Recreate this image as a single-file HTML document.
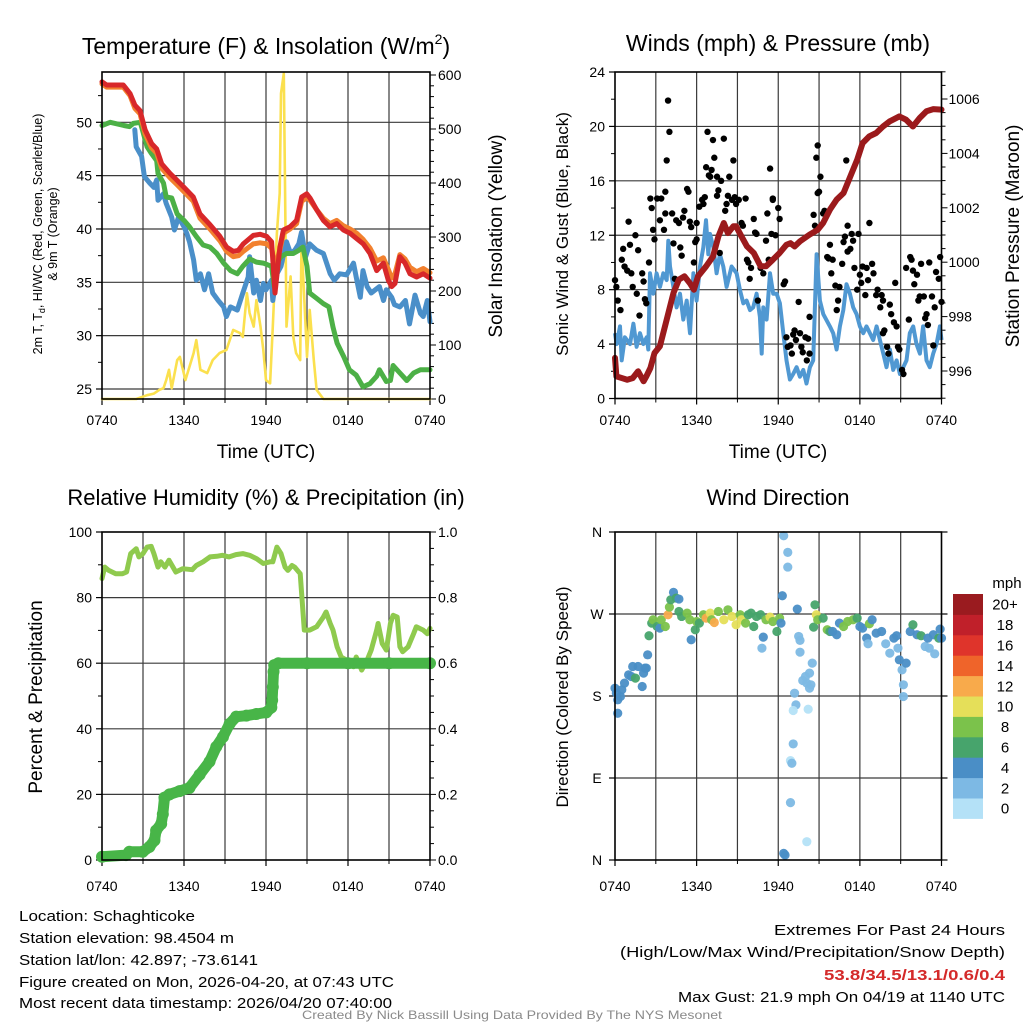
<!DOCTYPE html>
<html><head><meta charset="utf-8"><style>
html,body{margin:0;padding:0;background:#fff;}
svg{display:block;font-family:"Liberation Sans",sans-serif;}
</style></head><body>
<svg id="chart" width="1024" height="1024" viewBox="0 0 1024 1024" xmlns="http://www.w3.org/2000/svg"></svg>
<script>
// ---------- DATA ----------
const tickHours = [0,6,12,18,24];
const tickLabels = ["0740","1340","1940","0140","0740"];
// Panel 1: temperatures (F) & insolation
const tempLeftTicks = [25,30,35,40,45,50];
const solarTicks = [0,100,200,300,400,500,600];
const redHours = [0,0.34,1.56,2.05,2.41,2.78,3.15,3.63,4.0,4.37,4.98,5.46,6.07,6.68,7.17,7.9,8.63,9.12,9.61,9.98,10.34,11.07,11.56,12.05,12.41,12.66,13.02,13.27,13.76,14.24,14.61,14.98,15.22,15.71,16.2,16.68,17.17,17.66,18.15,18.63,19.12,19.61,20.1,20.59,20.95,21.2,21.44,21.8,22.17,22.54,23.02,23.51,24];
const redTemp = [53.8,53.5,53.5,52.7,51.6,51.1,49.3,48.0,47.5,46.1,45.2,44.6,43.8,43.0,41.4,40.4,39.3,38.3,37.9,38.0,38.6,39.4,39.5,39.3,38.8,34.0,38.3,39.9,40.2,40.8,43.0,43.3,42.9,41.8,40.8,40.2,40.5,39.9,39.6,39.1,38.6,37.7,36.1,36.8,35.2,34.6,34.9,37.4,36.8,35.8,35.5,35.8,35.4];
const orangeTemp = [53.6,53.3,53.3,52.5,51.3,50.8,48.9,47.6,47.1,45.7,44.8,44.2,43.4,42.6,41.0,40.0,38.9,37.9,37.4,37.5,37.9,38.6,38.7,38.6,38.2,36.5,38.0,39.6,40.0,40.5,42.6,42.9,42.7,41.8,41.0,40.5,40.8,40.3,40.0,39.6,39.0,38.2,37.0,37.3,36.2,35.4,35.8,37.6,37.2,36.4,36.0,36.3,35.9];
const greenHours = [0,0.6,1.6,2.0,2.3,2.8,3.0,3.3,3.6,4.0,4.1,4.5,4.7,5.1,5.5,6.0,6.4,6.9,7.4,7.9,8.4,8.9,9.4,9.9,10.3,10.8,11.3,11.8,12.4,12.6,12.8,13.1,13.5,14.0,14.4,14.7,15.0,15.2,15.7,16.2,16.6,16.9,17.2,17.7,18.1,18.6,19.1,19.6,20.1,20.3,20.8,21.1,21.3,21.8,22.3,22.8,23.3,24];
const greenTemp = [49.7,50.0,49.7,49.6,49.9,50.0,49.1,47.7,47.1,46.4,45.2,44.3,43.0,42.9,41.4,40.8,40.2,39.3,38.5,38.3,37.7,36.8,36.1,35.8,36.5,37.2,36.9,36.8,36.5,34.6,36.8,37.4,37.7,37.7,38.0,38.3,36.5,34.0,33.5,33.0,32.7,30.8,29.3,28.0,26.8,26.3,25.2,25.5,26.2,26.8,25.7,25.8,27.2,26.5,25.8,26.5,26.8,26.8];
const blueHours = [2.4,2.5,2.9,3.1,3.5,3.8,4.0,4.1,4.5,4.7,5.1,5.3,5.6,6.0,6.2,6.4,6.7,6.9,7.2,7.5,7.8,8.1,8.5,8.9,9.1,9.4,9.9,10.3,10.7,10.8,11.1,11.3,11.6,11.8,12.0,12.4,12.5,12.8,13.1,13.5,13.8,14.1,14.4,14.6,14.9,15.2,15.7,16.2,16.7,17.0,17.4,17.9,18.4,18.6,18.9,19.1,19.4,19.7,20.3,20.6,20.8,21.2,21.4,21.8,22.2,22.5,22.9,23.3,23.5,23.8,24];
const blueTemp = [49.3,47.7,46.8,44.9,44.3,43.9,44.6,42.7,43.3,42.4,41.1,39.9,41.1,40.2,39.6,38.8,37.1,35.2,35.8,34.3,35.8,34.0,33.3,32.7,31.8,32.7,32.4,34.0,35.5,37.4,34.0,35.2,33.3,34.9,34.3,35.2,33.3,35.8,36.5,38.8,37.7,38.0,38.6,39.7,37.4,38.6,38.0,37.7,35.8,35.2,35.8,35.7,36.8,35.5,33.6,36.1,34.6,34.0,34.6,33.3,34.3,33.6,32.9,32.7,33.3,31.1,33.8,32.1,31.8,33.3,31.3];
const solarHours = [0,2.5,3.3,3.8,4.2,4.5,4.7,4.9,5.1,5.5,5.7,6.1,6.4,6.7,6.9,7.2,7.7,8.1,8.6,9.1,9.6,10.1,10.3,10.6,10.8,11.1,11.3,11.6,11.8,12.0,12.3,12.5,12.8,13.0,13.1,13.3,13.4,13.5,13.8,14.0,14.2,14.5,14.6,14.9,15.0,15.2,15.5,15.7,16.2,24];
const solarWm2 = [0,0,7,10,17,20,35,54,20,72,78,35,60,85,109,54,48,72,85,91,128,122,115,196,159,134,183,134,91,35,29,134,307,381,566,603,381,134,227,115,85,72,294,134,78,165,72,17,0,0];
// Panel 2: winds & pressure
const windTicks = [0,4,8,12,16,20,24];
const pressTicks = [996,998,1000,1002,1004,1006];
const pressHours = [0,0.1,0.9,1.3,1.7,2.1,2.3,2.6,2.9,3.3,3.8,4.3,4.7,5.1,5.5,5.8,6.1,6.7,7.2,7.6,8.0,8.3,8.7,8.9,9.3,9.7,10.2,10.7,11.1,11.6,12.1,12.6,12.9,13.2,13.6,14.3,14.9,15.3,15.8,16.3,16.8,17.3,17.8,18.2,18.7,19.2,19.7,20.2,20.9,21.4,21.9,22.4,22.9,23.4,24];
const pressMb = [996.48,995.80,995.68,995.74,995.99,995.62,995.80,996.11,996.66,996.91,997.89,998.87,999.36,999.48,999.23,998.99,999.48,999.85,1000.21,1000.95,1001.44,1001.07,1001.32,1001.32,1000.95,1000.58,1000.34,999.85,999.85,1000.09,1000.34,1000.64,1000.70,1000.58,1000.77,1001.01,1001.19,1001.44,1001.93,1002.30,1002.54,1003.16,1003.77,1004.38,1004.63,1004.75,1004.99,1005.18,1005.36,1005.24,1004.99,1005.30,1005.55,1005.63,1005.61];
const windHours = [0,0.12,0.37,0.49,0.73,1.10,1.35,1.59,1.84,2.08,2.33,2.45,2.57,2.82,3.06,3.31,3.55,3.80,3.92,4.04,4.29,4.53,4.78,5.02,5.27,5.51,5.76,6.00,6.25,6.49,6.69,6.86,6.98,7.23,7.47,7.71,7.96,8.20,8.57,8.94,9.18,9.43,9.67,9.92,10.16,10.41,10.65,10.78,10.90,11.14,11.39,11.63,11.88,12.12,12.37,12.61,12.86,13.10,13.35,13.59,13.84,14.08,14.33,14.57,14.82,15.06,15.31,15.80,16.04,16.29,16.53,16.78,17.02,17.27,17.51,17.76,18.00,18.25,18.49,18.74,18.98,19.23,19.47,19.72,19.96,20.21,20.45,20.70,20.94,21.19,21.43,21.67,21.92,22.16,22.41,22.65,22.90,23.14,23.39,23.63,23.88,24];
const windMph = [4.8,4.0,5.3,2.8,4.5,4.0,5.5,3.8,4.8,4.0,4.5,3.6,9.2,7.7,9.2,8.2,9.2,8.7,11.6,9.7,8.2,6.7,7.7,5.8,7.2,4.8,9.2,7.2,9.7,11.1,13.1,10.6,12.1,11.1,9.2,10.6,9.7,8.2,9.7,9.2,8.0,7.0,7.2,6.5,6.7,7.7,6.0,3.3,6.7,5.8,9.2,7.7,7.7,7.0,4.8,2.8,1.4,1.8,2.3,1.6,2.1,1.1,2.3,2.8,10.6,7.2,6.2,5.3,4.8,3.6,5.3,6.5,8.4,7.7,6.7,6.2,5.3,4.8,5.3,4.8,4.3,5.3,4.3,3.3,2.3,3.6,2.1,2.8,1.8,2.3,2.8,4.8,5.3,4.0,3.3,5.3,2.8,2.3,3.3,4.0,5.3,4.3];
const gustHours = [0.0,0.1,0.2,0.4,0.5,0.6,0.7,0.9,1.0,1.1,1.2,1.3,1.5,1.6,1.7,1.8,2.0,2.1,2.2,2.3,2.5,2.6,2.7,2.8,2.9,3.1,3.3,3.4,3.6,3.7,3.7,3.8,3.9,4.0,4.2,4.3,4.4,4.5,4.7,4.8,4.9,5.0,5.1,5.3,5.4,5.5,5.6,5.8,5.9,6.0,6.0,6.2,6.4,6.5,6.6,6.7,6.8,6.9,7.0,7.1,7.2,7.3,7.5,7.5,7.6,7.7,7.8,8.0,8.1,8.2,8.3,8.4,8.6,8.7,8.8,8.9,9.1,9.3,9.4,9.6,9.7,9.8,9.9,10.0,10.2,10.3,10.4,10.5,10.7,10.9,11.1,11.2,11.3,11.4,11.5,11.6,11.6,11.8,12.0,12.1,12.4,12.5,12.6,12.7,12.9,13.0,13.1,13.2,13.3,13.5,13.6,13.7,13.8,14.0,14.1,14.2,14.3,14.3,14.6,14.7,14.8,14.9,14.9,15.0,15.1,15.3,15.4,15.6,15.7,15.8,15.9,16.0,16.2,16.3,16.4,16.5,16.7,16.8,16.9,17.0,17.1,17.1,17.3,17.4,17.5,17.6,17.8,17.9,18.0,18.1,18.2,18.4,18.5,18.6,18.7,18.9,19.0,19.2,19.3,19.5,19.6,19.7,19.7,19.8,20.0,20.1,20.2,20.3,20.5,20.6,20.7,20.8,20.9,21.1,21.2,21.4,21.6,21.7,21.8,21.9,22.0,22.2,22.3,22.4,22.5,22.7,22.8,22.9,23.0,23.1,23.3,23.4,23.5,23.6,23.8,23.9,24.0];
const gustMph = [8.7,8.2,7.2,6.5,10.2,11.0,9.7,9.4,13.0,11.3,9.2,8.2,12.0,7.7,10.9,6.1,9.2,8.6,7.3,7.0,10.0,14.7,14.0,12.4,11.7,14.7,13.1,14.7,12.4,13.6,15.2,17.5,21.9,19.6,13.6,11.4,8.8,13.1,12.9,11.1,10.5,13.3,13.8,15.4,15.2,13.0,12.6,10.0,11.5,11.7,12.9,14.1,14.6,14.3,14.8,17.0,19.6,16.4,16.3,16.8,19.0,17.7,16.3,14.9,15.3,10.7,16.0,19.1,13.8,14.3,14.9,16.3,14.6,17.5,14.8,14.3,14.6,12.9,12.7,14.7,10.2,10.0,8.8,9.6,13.2,12.2,12.1,7.2,9.6,9.2,11.6,13.6,10.2,16.9,12.1,14.7,14.6,12.0,14.0,13.2,8.4,8.6,4.5,3.8,3.9,3.3,4.7,5.0,4.3,7.1,4.8,3.8,3.4,4.5,2.8,4.4,3.3,6.0,13.5,12.7,17.7,18.6,15.1,15.2,16.3,13.6,13.8,10.4,10.3,11.3,9.2,10.2,8.3,6.5,7.2,8.2,9.9,11.5,11.9,17.5,12.7,10.8,11.0,12.1,11.6,9.6,8.0,12.1,9.1,8.5,9.7,7.6,9.6,8.7,12.9,9.9,9.2,7.6,8.0,6.7,7.6,7.2,4.8,5.0,3.8,3.3,6.9,6.2,5.6,8.5,5.3,3.8,3.6,2.1,1.8,9.6,5.8,10.4,10.2,9.4,8.4,9.1,7.2,7.5,9.9,7.5,5.9,6.2,5.4,10.0,7.5,3.9,6.7,9.3,8.8,10.4,7.1];
// Panel 3: RH & precip
const rhTicks = [0,20,40,60,80,100];
const precipTicks = [0,0.2,0.4,0.6,0.8,1.0];
const rhHours = [0,0.2,0.5,1.0,1.5,1.8,2.1,2.5,2.7,3.0,3.3,3.6,3.8,4.1,4.3,4.6,4.9,5.4,5.9,6.6,6.9,7.4,7.9,8.4,8.8,9.3,9.8,10.3,10.8,11.3,11.8,12.3,12.5,12.8,13.1,13.4,13.6,13.9,14.1,14.5,14.8,15.2,15.7,16.2,16.4,16.7,16.9,17.2,17.5,17.9,18.4,18.6,19.0,19.4,19.7,20.1,20.2,20.5,20.8,21.1,21.3,21.6,21.8,22.0,22.4,22.8,23.0,23.5,23.8,24];
const rhPct = [85.8,89.3,88.3,87.3,87.3,87.8,93.4,94.9,92.4,93.4,95.4,95.6,93.4,89.3,90.9,89.3,91.4,87.8,88.8,88.5,89.8,90.9,92.4,92.6,92.9,92.4,93.1,93.4,92.9,91.9,90.4,90.9,90.9,95.4,93.4,89.3,88.3,89.8,89.3,87.3,70.1,70.1,71.1,74.1,75.6,72.1,70.1,65.0,61.9,60.9,58.9,61.9,57.9,60.9,64.0,70.1,72.1,66.0,64.0,72.1,74.6,74.1,65.0,63.5,65.0,69.0,71.1,70.1,69.0,70.6];
const precipHours = [0,1.76,2.0,2.98,3.47,3.84,3.96,4.33,4.45,4.57,4.94,5.67,6.4,7.14,7.87,8.36,8.85,9.34,9.82,10.56,11.29,12.02,12.39,12.45,12.5,12.55,12.6,12.9,15,18,21,24];
const precipIn = [0.01,0.015,0.025,0.025,0.04,0.06,0.09,0.11,0.14,0.19,0.2,0.21,0.22,0.26,0.30,0.345,0.375,0.415,0.437,0.44,0.445,0.45,0.465,0.487,0.528,0.574,0.594,0.6,0.6,0.6,0.6,0.6];
// Panel 4: wind direction
const dirTickDeg = [0,90,180,270,360];
const dirTickLabels = ["N","E","S","W","N"];
const speedBins = [0,2,4,6,8,10,12,14,16,18,20];
const speedBinLabels = ["0","2","4","6","8","10","12","14","16","18","20+"];
const speedColors = ["#b4e1f7","#7db9e4","#4a8ec6","#47a46c","#7bc24b","#e5df59","#f8aa4b","#ef642a","#df342b","#c0202a","#9a1b1f"];
const dirHours = [0.0,0.1,0.2,0.2,0.4,0.5,0.7,1.0,1.2,1.3,1.5,1.7,2.0,2.1,2.2,2.3,2.4,2.5,2.7,2.8,3.1,3.3,3.4,3.7,3.9,4.0,4.1,4.3,4.5,4.7,4.7,4.9,5.3,5.5,5.6,5.9,6.0,6.2,6.5,6.7,7.0,7.1,7.3,7.6,8.0,8.3,8.6,8.9,9.2,9.3,9.6,9.8,10.0,10.2,10.4,10.7,10.9,10.8,11.1,11.4,11.6,11.9,12.1,12.2,12.3,12.4,12.7,12.7,13.4,13.5,13.6,13.6,13.8,14.0,14.3,14.5,14.1,14.3,14.4,13.2,13.3,13.1,14.2,13.1,12.9,13.0,12.9,12.4,12.5,14.1,14.7,14.8,14.6,14.9,15.3,15.6,15.8,16.0,16.3,16.5,16.8,17.1,17.5,17.8,18.0,18.2,18.5,18.6,18.7,18.9,19.2,19.6,19.9,20.2,20.5,20.7,20.8,20.9,21.1,21.4,21.2,21.2,21.7,21.9,22.2,22.5,22.8,23.0,23.1,23.4,23.5,23.8,23.9,24.0];
const dirDeg = [188.6,183.1,175.8,161.1,179.4,186.8,194.1,203.2,201.4,212.4,199.6,212.4,190.4,205.1,210.6,210.6,225.2,246.1,260.0,263.7,256.3,254.5,263.7,256.3,269.2,277.6,285.6,293.7,287.5,286.4,272.8,267.3,271.0,263.7,241.7,252.7,261.8,260.0,269.2,265.5,271.0,263.7,260.7,272.8,263.7,274.6,267.3,258.2,269.2,263.7,260.0,269.2,271.0,256.3,267.3,269.2,244.6,232.5,263.7,266.6,261.8,250.8,265.5,260.0,290.0,355.9,337.6,321.5,275.4,245.4,241.0,228.1,197.0,201.4,205.1,216.1,194.1,188.6,192.3,183.1,170.3,164.1,165.5,127.4,109.1,106.2,63.0,7.3,5.5,20.1,280.1,269.2,255.6,263.7,265.5,252.7,250.8,250.8,247.2,260.0,256.3,261.8,263.7,265.5,256.3,254.5,243.5,237.3,259.3,263.7,249.0,250.8,237.3,227.0,243.5,246.1,232.5,219.7,208.7,216.1,192.3,179.4,250.8,258.2,247.2,246.1,234.4,243.5,232.5,247.2,226.3,243.5,253.4,243.5];
const dirSpeed = [4,4,4,4,4,4,4,4,4,4,6,4,4,4,4,4,4,6,6,8,6,4,8,8,12,8,6,4,6,4,6,6,8,8,4,6,8,6,8,12,10,8,12,8,10,8,10,10,8,10,8,6,6,6,6,6,4,2,8,10,8,6,8,4,4,2,2,2,4,2,2,2,2,2,2,2,2,2,2,2,2,0,0,2,0,2,2,4,4,0,6,10,6,8,6,8,6,4,4,4,8,8,8,6,4,4,4,2,8,4,4,4,2,2,4,4,2,4,2,4,2,2,4,6,4,6,2,4,2,4,2,6,4,4];

// ---------- DRAWING ----------
const NS = "http://www.w3.org/2000/svg";
const svg = document.getElementById("chart");
function el(tag, attrs, parent){
  const e = document.createElementNS(NS, tag);
  for (const k in attrs) e.setAttribute(k, attrs[k]);
  (parent || svg).appendChild(e);
  return e;
}
function txt(s, x, y, size, anchor, parent, extra){
  const t = el("text", Object.assign({x:x, y:y, "font-size":size, "text-anchor":anchor||"middle", fill:"#000"}, extra||{}), parent);
  t.textContent = s;
  return t;
}
function lin(d0,d1,r0,r1){ return v => r0 + (v-d0)/(d1-d0)*(r1-r0); }
function pathD(xs, ys, xf, yf){
  let d = "";
  for (let i=0;i<xs.length;i++) d += (i?"L":"M") + xf(xs[i]).toFixed(1) + "," + yf(ys[i]).toFixed(1);
  return d;
}

function panel(name, L, R, T, B){
  const g = el("g", {});
  
  
  return g;
}
function vgrid(g, xf, T, B){
  for (let h=3; h<24; h+=3){
    const l = el("line", {x1:xf(h), x2:xf(h), y1:T, y2:B, stroke:"#3a3a3a", "stroke-width":1.2}, g);
    
    
  }
}
function xAxis(g, xf, B, labelY){
  tickHours.forEach((h,i)=>{
    el("line",{x1:xf(h),x2:xf(h),y1:B,y2:B+6,stroke:"#000","stroke-width":1.2},g);
    const t = txt(tickLabels[i], xf(h), labelY, 14, "middle", g);
    
    
  });
  for (let h=3; h<24; h+=6) el("line",{x1:xf(h),x2:xf(h),y1:B,y2:B+4,stroke:"#000","stroke-width":1},g);
}
function frame(g, L,R,T,B){
  const r = el("rect",{x:L,y:T,width:R-L,height:B-T,fill:"none",stroke:"#000","stroke-width":1.6},g);
  
  
}

// ===== Panel 1 =====
(function(){
  const L=102,R=430,T=72,B=399;
  const g = panel("temperature-panel");
  const x = lin(0,24,L,R);
  const y = lin(25,50,389,122.3);
  const yS = lin(0,600,399,75);
  vgrid(g,x,T,B);
  tempLeftTicks.forEach(v=>{
    el("line",{x1:L,x2:R,y1:y(v),y2:y(v),stroke:"#3a3a3a","stroke-width":1.2},g);
    el("line",{x1:L-6,x2:L,y1:y(v),y2:y(v),stroke:"#000","stroke-width":1.2},g);
    const t = txt(String(v), L-10, y(v)+5, 14, "end", g);
    
    
  });
  [27.5,32.5,37.5,42.5,47.5,52.5].forEach(v=>el("line",{x1:L-4,x2:L,y1:y(v),y2:y(v),stroke:"#000","stroke-width":1},g));
  for (let w=0; w<=600; w+=20) el("line",{x1:R,x2:R+(w%100===0?6:4),y1:yS(w),y2:yS(w),stroke:"#000","stroke-width":1},g);
  solarTicks.forEach(v=>{
    const t = txt(String(v), R+8, yS(v)+5, 14, "start", g);
    
    
  });
  xAxis(g,x,B,425);
  const series = [
    ["solar-insolation-line", solarHours, solarWm2, yS, "#fbe04e", 2.6],
    ["blue-temperature-line", blueHours, blueTemp, y, "#4a8fc9", 5],
    ["green-temperature-line", greenHours, greenTemp, y, "#4cb046", 5],
    ["orange-temperature-line", redHours, orangeTemp, y, "#f2802e", 5],
    ["red-temperature-line", redHours, redTemp, y, "#d8282a", 5]
  ];
  series.forEach(s=>{
    const p = el("path",{d:pathD(s[1],s[2],x,s[3]),fill:"none",stroke:s[4],"stroke-width":s[5],"stroke-linejoin":"round","stroke-linecap":"round"},g);
    
    
  });
  frame(g,L,R,T,B);
  const title = el("text",{x:266,y:54,"font-size":23,"text-anchor":"middle"},g);
  title.innerHTML = 'Temperature (F) &amp; Insolation (W/m<tspan font-size="14" dy="-10">2</tspan><tspan dy="10">)</tspan>';
  
  
  const xt = txt("Time (UTC)", 266, 458, 19, "middle", g);
  
  
  const yl = el("text",{transform:"translate(42,234) rotate(-90)","font-size":12.5,"text-anchor":"middle"},g);
  yl.innerHTML = '2m T, T<tspan font-size="9" dy="3">d</tspan><tspan dy="-3">, HI/WC (Red, Green, Scarlet/Blue)</tspan>';
  
  
  const yl2 = txt("& 9m T (Orange)", 0, 0, 12.5, "middle", g, {transform:"translate(57,234) rotate(-90)"});
  
  
  const yr = txt("Solar Insolation (Yellow)", 0, 0, 19, "middle", g, {transform:"translate(502,236) rotate(-90)"});
  
  
})();

// ===== Panel 2 =====
(function(){
  const L=615,R=941.5,T=72,B=398.5;
  const g = panel("winds-pressure-panel");
  const x = lin(0,24,L,R);
  const y = lin(0,24,B,T);
  const yP = lin(996,1006,371,99);
  vgrid(g,x,T,B);
  windTicks.forEach(v=>{
    if (v>0 && v<24) el("line",{x1:L,x2:R,y1:y(v),y2:y(v),stroke:"#3a3a3a","stroke-width":1.2},g);
    el("line",{x1:L-6,x2:L,y1:y(v),y2:y(v),stroke:"#000","stroke-width":1.2},g);
    const t = txt(String(v), L-10, y(v)+5, 14, "end", g);
    
    
  });
  for (let v=2; v<24; v+=4) el("line",{x1:L-4,x2:L,y1:y(v),y2:y(v),stroke:"#000","stroke-width":1},g);
  for (let p=995; p<=1007; p+=0.5) el("line",{x1:R,x2:R+(p%2===0?6:4),y1:yP(p),y2:yP(p),stroke:"#000","stroke-width":1},g);
  pressTicks.forEach(v=>{
    const t = txt(String(v), R+7, yP(v)+5, 14, "start", g);
    
    
  });
  xAxis(g,x,B,425);
  const w = el("path",{d:pathD(windHours,windMph,x,y),fill:"none",stroke:"#5098d2","stroke-width":4,"stroke-linejoin":"round"},g);
  
  
  const gg = el("g",{},g);
  
  
  for (let i=0;i<gustHours.length;i++){
    const c = el("circle",{cx:x(gustHours[i]),cy:y(gustMph[i]),r:3.2,fill:"#000"},gg);
    
    
  }
  const p = el("path",{d:pathD(pressHours,pressMb,x,yP),fill:"none",stroke:"#9b1a1c","stroke-width":6,"stroke-linejoin":"round","stroke-linecap":"round"},g);
  
  
  frame(g,L,R,T,B);
  const title = txt("Winds (mph) & Pressure (mb)", 778, 51, 23, "middle", g);
  
  
  const xt = txt("Time (UTC)", 778, 458, 19, "middle", g);
  
  
  const yl = txt("Sonic Wind & Gust (Blue, Black)", 0, 0, 17, "middle", g, {transform:"translate(568,234) rotate(-90)"});
  
  
  const yr = txt("Station Pressure (Maroon)", 0, 0, 19, "middle", g, {transform:"translate(1019,236) rotate(-90)"});
  
  
})();

// ===== Panel 3 =====
(function(){
  const L=102,R=430,T=532,B=860;
  const g = panel("humidity-precip-panel");
  const x = lin(0,24,L,R);
  const y = lin(0,100,B,T);
  const yP = lin(0,1,B,T);
  vgrid(g,x,T,B);
  rhTicks.forEach(v=>{
    if (v>0 && v<100) el("line",{x1:L,x2:R,y1:y(v),y2:y(v),stroke:"#3a3a3a","stroke-width":1.2},g);
    el("line",{x1:L-6,x2:L,y1:y(v),y2:y(v),stroke:"#000","stroke-width":1.2},g);
    const t = txt(String(v), L-10, y(v)+5, 14, "end", g);
    
    
  });
  for (let v=10; v<100; v+=20) el("line",{x1:L-4,x2:L,y1:y(v),y2:y(v),stroke:"#000","stroke-width":1},g);
  for (let k=0; k<=20; k++) el("line",{x1:R,x2:R+(k%4===0?6:4),y1:yP(k*0.05),y2:yP(k*0.05),stroke:"#000","stroke-width":1},g);
  precipTicks.forEach(v=>{
    const t = txt(v.toFixed(1), R+8, yP(v)+5, 14, "start", g);
    
    
  });
  xAxis(g,x,B,891);
  const rh = el("path",{d:pathD(rhHours,rhPct,x,y),fill:"none",stroke:"#8fca4e","stroke-width":5,"stroke-linejoin":"round","stroke-linecap":"round"},g);
  
  
  const pr = el("path",{d:pathD(precipHours,precipIn,x,yP),fill:"none",stroke:"#48b548","stroke-width":11,"stroke-linejoin":"round","stroke-linecap":"round"},g);
  
  
  for (let i=0;i<precipHours.length;i++){
    const c = el("circle",{cx:x(precipHours[i]),cy:yP(precipIn[i]),r:6,fill:"#48b548"},g);
    
    
  }
  frame(g,L,R,T,B);
  const title = txt("Relative Humidity (%) & Precipitation (in)", 266, 505, 22, "middle", g);
  
  
  const yl = txt("Percent & Precipitation", 0, 0, 19, "middle", g, {transform:"translate(42,697) rotate(-90)"});
  
  
})();

// ===== Panel 4 =====
(function(){
  const L=615,R=941.5,T=532,B=860;
  const g = panel("wind-direction-panel");
  const x = lin(0,24,L,R);
  const y = lin(0,360,B,T);
  vgrid(g,x,T,B);
  dirTickDeg.forEach((v,i)=>{
    if (v>0 && v<360) el("line",{x1:L,x2:R,y1:y(v),y2:y(v),stroke:"#3a3a3a","stroke-width":1.2},g);
    el("line",{x1:L-6,x2:L,y1:y(v),y2:y(v),stroke:"#000","stroke-width":1.2},g);
    el("line",{x1:R,x2:R+6,y1:y(v),y2:y(v),stroke:"#000","stroke-width":1.2},g);
    const t = txt(dirTickLabels[i], L-18, y(v)+5, 14, "middle", g);
    
    
  });
  xAxis(g,x,B,891);
  const pg = el("g",{},g);
  
  
  function colorFor(s){ let k=0; for (let i=0;i<speedBins.length;i++) if (s>=speedBins[i]) k=i; return speedColors[k]; }
  for (let i=0;i<dirHours.length;i++){
    const c = el("circle",{cx:x(dirHours[i]),cy:y(dirDeg[i]),r:4.6,fill:colorFor(dirSpeed[i]),"fill-opacity":0.95},pg);
    
    
  }
  frame(g,L,R,T,B);
  // colorbar
  const cb = el("g",{},g);
  
  
  const cbTop=594, cbH=20.4;
  for (let i=0;i<speedBins.length;i++){
    const yy = cbTop + (speedBins.length-1-i)*cbH;
    const r = el("rect",{x:953,y:yy,width:30,height:cbH+0.5,fill:speedColors[i]},cb);
    
    
    const t = txt(speedBinLabels[i], 1005, yy+cbH/2+5.5, 15, "middle", cb);
    
    
  }
  const u = txt("mph", 1007, 588, 15, "middle", cb);
  
  
  const title = txt("Wind Direction", 778, 505, 22, "middle", g);
  
  
  const yl = txt("Direction (Colored By Speed)", 0, 0, 17, "middle", g, {transform:"translate(568,697) rotate(-90)"});
  
  
})();

// ===== Footer =====
(function(){
  const g = el("g",{});
  
  
  const left = [["Location: Schaghticoke",921,176],["Station elevation: 98.4504 m",943,215],["Station lat/lon: 42.897; -73.6141",965,239],["Figure created on Mon, 2026-04-20, at 07:43 UTC",987,375],["Most recent data timestamp: 2026/04/20 07:40:00",1008,373]];
  left.forEach(a=>{
    const t = txt(a[0], 19, a[1], 15, "start", g, {textLength:a[2], lengthAdjust:"spacingAndGlyphs"});
    
    
  });
  const right = [["Extremes For Past 24 Hours",935,231,"#000","normal"],["(High/Low/Max Wind/Precipitation/Snow Depth)",957,385,"#000","normal"],["53.8/34.5/13.1/0.6/0.4",980,181,"#d42a2a","bold"],["Max Gust: 21.9 mph On 04/19 at 1140 UTC",1002,327,"#000","normal"]];
  right.forEach(a=>{
    const t = txt(a[0], 1005, a[1], 15, "end", g, {textLength:a[2], lengthAdjust:"spacingAndGlyphs", fill:a[3], "font-weight":a[4]});
    
    
  });
  const c = txt("Created By Nick Bassill Using Data Provided By The NYS Mesonet", 512, 1019, 12, "middle", g, {fill:"#8a8a8a", textLength:420, lengthAdjust:"spacingAndGlyphs"});
  
  
})();
</script>
</body></html>
